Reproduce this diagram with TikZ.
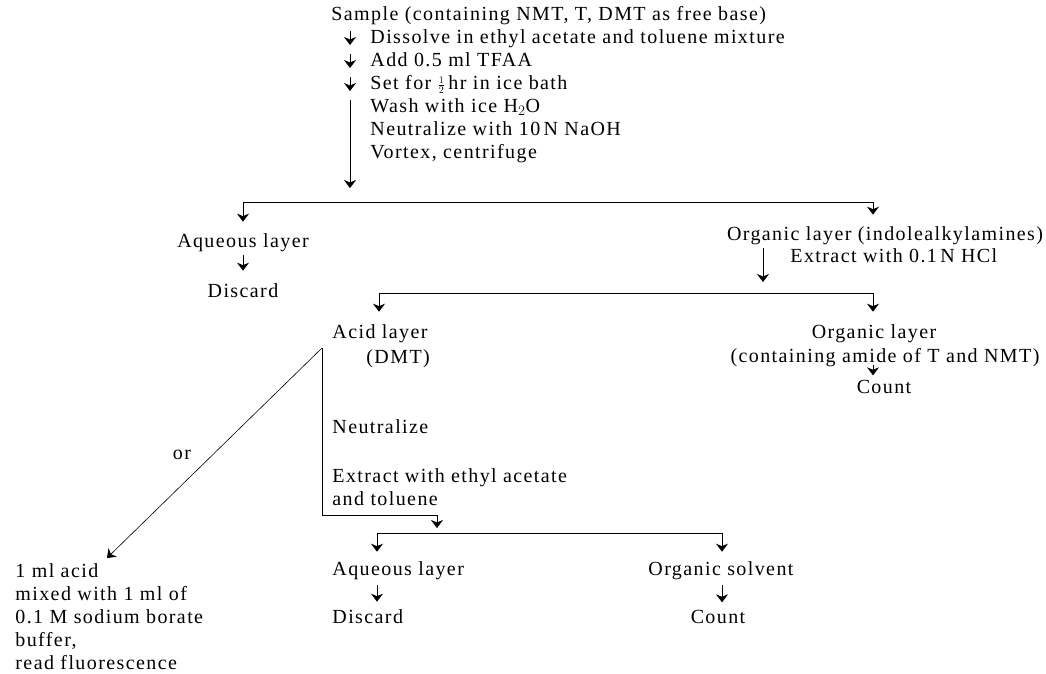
\documentclass[tikz,border=0pt]{standalone}
\usepackage{fontspec}
\setmainfont{Liberation Serif}[LetterSpace=7.0]
\usetikzlibrary{arrows.meta}

\begin{document}
\begin{tikzpicture}[x=1pt, y=-1pt, line width=0.9pt,
  font=\fontsize{20}{23}\selectfont,
  arr/.style={-{Stealth[length=8pt,width=12pt,inset=2.5pt]}},
  tnode/.style={anchor=base west, inner xsep=0pt, inner ysep=3pt},
  cnode/.style={anchor=base, inner xsep=0pt, inner ysep=3pt},
  thinline/.style={line width=0.6pt}]

\useasboundingbox (0,0) rectangle (1046,673);

% sample preparation
\node (n0) [tnode] at (331,20) {Sample (containing NMT, T, DMT as free base)};
\node (s1) [tnode] at (370,43) {Dissolve in ethyl acetate and toluene mixture};
\node (s2) [tnode] at (370,66) {Add 0.5 ml TFAA};
\node (s3) [tnode] at (370,89) {Set for $\scriptstyle\frac{1}{2}$\,hr in ice bath};
\node (s4) [tnode] at (370,112) {Wash with ice H$_2$O};
\node (s5) [tnode] at (370,135) {Neutralize with 10\,N NaOH};
\node (s6) [tnode] at (370,158) {Vortex, centrifuge};

\foreach \i in {1,2,3}
  \draw[arr] ([xshift=-20pt,yshift=12pt]s\i.base west) -- ([xshift=-20pt,yshift=-2pt]s\i.base west);
\draw[arr, thinline] ([xshift=-20pt,yshift=12pt]s4.base west) -- ([xshift=-20pt,yshift=-30pt]s6.base west);

% first split
\coordinate (b1) at (243,202);
\coordinate (b2) at (873,202);
\draw (b1) -- (b2);
\node (n1) [cnode] at (243,247) {Aqueous layer};
\node (n2) [cnode] at (243,297) {Discard};
\node (n3) [cnode] at (885,240) {Organic layer (indolealkylamines)};
\node (n4) [tnode] at (790,262) {Extract with 0.1\,N HCl};
\draw[arr, shorten >=8pt] (b1) -- (b1 |- n1.north);
\draw[arr, shorten >=8pt] (b2) -- (b2 |- n3.north);
\draw[arr, shorten >=9pt] (n1.south) -- (n2.north);

% second split
\coordinate (b3) at (379,293);
\coordinate (b4) at (873,293);
\coordinate (b5) at (763,293);
\draw (b3) -- (b4);
\draw[arr, thinline, shorten >=11pt] (b5 |- n3.south) -- (b5);
\node (n5) [tnode] at (332,338) {Acid layer};
\node (n6) [tnode] at (366,363) {(DMT)};
\node (n7) [cnode] at (874,338) {Organic layer};
\node (n8) [cnode] at (885,362) {(containing amide of T and NMT)};
\node (n9) [cnode] at (884,393) {Count};
\draw[arr, shorten >=9pt] (b3) -- (b3 |- n5.north);
\draw[arr, shorten >=9pt] (b4) -- (b4 |- n7.north);
\draw[arr, shorten <=3pt, shorten >=1pt] (n8.base -| b4) -- (n9.north -| b4);

% acid layer treatment
\coordinate (c1) at (322,348);
\coordinate (c2) at (437,515);
\coordinate (c3) at (437,533);
\draw[arr, thinline, shorten >=5pt] (c1) |- (c2) -- (c3);
\node (n10) [tnode] at (332,433) {Neutralize};
\node (n11) [tnode] at (332,482) {Extract with ethyl acetate};
\node (n12) [tnode] at (332,505) {and toluene};

% third split
\coordinate (b6) at (377,533);
\coordinate (b7) at (722,533);
\draw (b6) -- (b7);
\node (n13) [tnode] at (332,575) {Aqueous layer};
\node (n14) [tnode] at (332,623) {Discard};
\node (n15) [tnode] at (648,575) {Organic solvent};
\node (n16) [cnode] at (718,623) {Count};
\draw[arr, shorten >=6pt] (b6) -- (b6 |- n13.north);
\draw[arr, shorten >=6pt] (b7) -- (b7 |- n15.north);
\draw[arr, shorten <=2pt, shorten >=4pt] (n13.south -| b6) -- (n14.north -| b6);
\draw[arr, shorten <=2pt, shorten >=4pt] (n15.south -| b7) -- (n16.north -| b7);

% fluorescence branch
\coordinate (d1) at (107,558);
\draw[arr, thinline] (c1) -- (d1);
\node (n17) [cnode] at (182,459) {or};
\foreach \t [count=\i] in {1 ml acid, mixed with 1 ml of, 0.1 M sodium borate, {buffer,}, read fluorescence}
  \node (f\i) [tnode] at (15,554+23*\i) {\t};
\end{tikzpicture}
\end{document}
